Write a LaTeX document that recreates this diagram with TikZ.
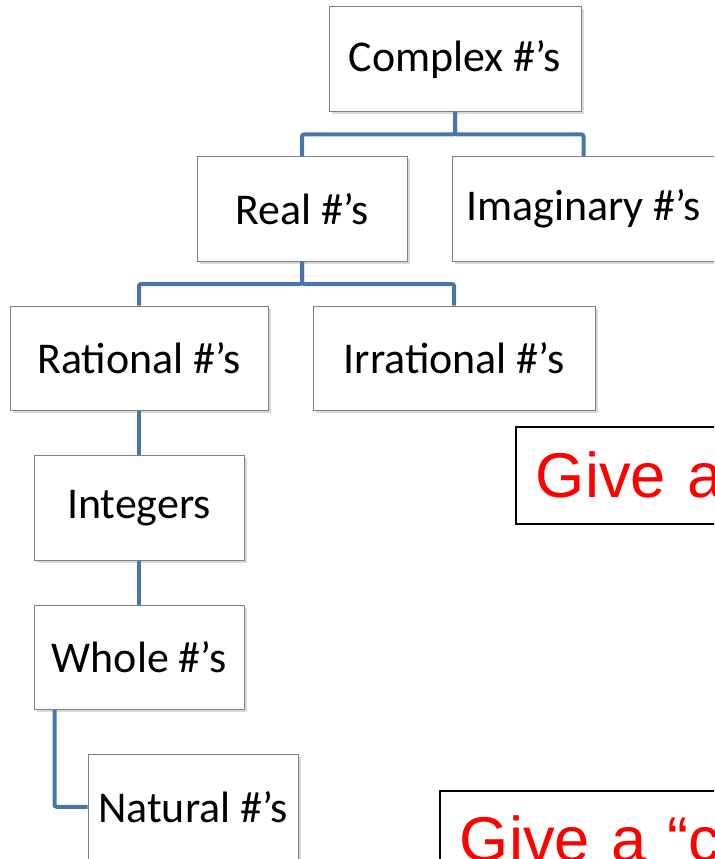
\documentclass[tikz,border=0pt]{standalone}
\usepackage{fontspec}
\setmainfont{Carlito}
\newfontfamily\notefont{Liberation Sans}
\usepackage{tikz}
\usepackage{xcolor}
\usetikzlibrary{positioning, shadows}
\definecolor{linkblue}{HTML}{4A75A8}
\tikzset{
    numset/.style={rectangle, minimum width=4.2cm, minimum height=2.09cm, text centered, draw=gray, line width=0.02cm, fill=white,
        drop shadow={shadow xshift=0.05cm, shadow yshift=-0.05cm, opacity=0.3}, font=\fontsize{25}{30}\selectfont},
    note/.style={rectangle, draw=black, line width=0.035cm, fill=white, anchor=north west, inner xsep=0.4cm,
        text width=8cm, align=left, minimum height=1.94cm, text=red, font=\notefont\fontsize{36}{43}\selectfont},
    link/.style={draw=linkblue, line width=0.08cm, rounded corners=0.04cm},
}

\begin{document}
\begin{tikzpicture}[node distance=0.88cm]
    \clip (0,0) rectangle (14.28,-17.18);

    \node [numset, minimum width=5.04cm] (cplx) at (9.1,-1.185) {Complex \#’s};
    \node [numset, below=of cplx, xshift=-3.06cm] (real) {Real \#’s};
    \node [numset, right=of real, minimum width=5.26cm] (imag) {Imaginary \#’s};

    \node [numset, below=of real, xshift=-3.26cm, minimum width=5.16cm] (ratl) {Rational \#’s};
    \node [numset, right=of ratl, minimum width=5.64cm] (irrat) {Irrational \#’s};

    \node [numset, below=of ratl] (intg) {Integers};
    \node [numset, below=of intg] (whole) {Whole \#’s};
    \node [numset, below=of whole, xshift=1.08cm] (natl) {Natural \#’s};

    \node [note] (note1) at (10.3,-8.52) {Give a};
    \node [note] (note2) at (8.78,-15.8) {Give a “c};

    \draw [link] (cplx.south) -- ++(0,-0.45) -| (real.north);
    \draw [link] (cplx.south) -- ++(0,-0.45) -| (imag.north);

    \draw [link] (real.south) -- ++(0,-0.45) -| (ratl.north);
    \draw [link] (real.south) -- ++(0,-0.45) -| (irrat.north);

    \draw [link] (ratl) -- (intg);
    \draw [link] (intg) -- (whole);
    \draw [link] ([xshift=0.42cm]whole.south west) |- (natl.west);
\end{tikzpicture}
\end{document}
